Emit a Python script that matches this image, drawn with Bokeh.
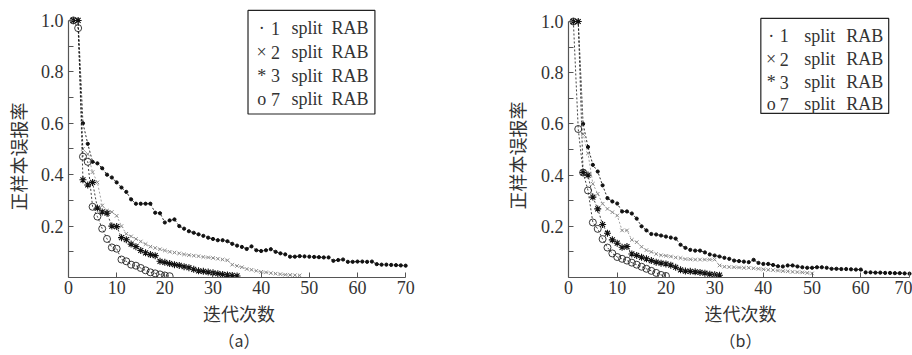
from bokeh.plotting import figure
from bokeh.models import FixedTicker, NumeralTickFormatter, Label, BoxAnnotation, Range1d, Title
from bokeh.layouts import row
from bokeh.embed import file_html
from bokeh.resources import INLINE

# ---------------- data ----------------
x_ticks = [0, 10, 20, 30, 40, 50, 60, 70]
y_ticks = [0.2, 0.4, 0.6, 0.8, 1.0]
y_minor = [0.1, 0.3, 0.5, 0.7, 0.9]
x_title = "迭代次数"
y_title = "正样本误报率"
panel_names = ["（a）", "（b）"]
legend_symbols = ["·", "×", "*", "o"]
legend_digits = ["1", "2", "3", "7"]
legend_words = ["split", "RAB"]

# (a)
a_split1 = [1.0, 1.0, 0.60, 0.52, 0.45, 0.444, 0.425, 0.40, 0.389, 0.37,
            0.35, 0.333, 0.304, 0.287, 0.287, 0.287, 0.287, 0.252, 0.25, 0.214,
            0.222, 0.226, 0.20, 0.19, 0.18, 0.174, 0.168, 0.162, 0.155, 0.15,
            0.145, 0.145, 0.141, 0.131, 0.124, 0.119, 0.111, 0.121, 0.106, 0.103,
            0.106, 0.11, 0.10, 0.094, 0.09, 0.081, 0.081, 0.083, 0.082, 0.081,
            0.08, 0.079, 0.078, 0.078, 0.065, 0.068, 0.07, 0.061, 0.061, 0.062,
            0.062, 0.061, 0.062, 0.052, 0.05, 0.05, 0.049, 0.048, 0.047, 0.046]
a_split2 = [1.0, 1.0, 0.50, 0.48, 0.41, 0.37, 0.28, 0.26, 0.255, 0.24,
            0.20, 0.17, 0.16, 0.15, 0.14, 0.13, 0.12, 0.115, 0.11, 0.105,
            0.10, 0.097, 0.094, 0.09, 0.087, 0.085, 0.083, 0.08, 0.078, 0.076,
            0.073, 0.07, 0.067, 0.05, 0.045, 0.04, 0.033, 0.03, 0.026, 0.022,
            0.02, 0.017, 0.015, 0.013, 0.011, 0.01, 0.009, 0.008]
a_split3 = [1.0, 1.0, 0.38, 0.36, 0.37, 0.27, 0.255, 0.25, 0.20, 0.198,
            0.155, 0.147, 0.13, 0.12, 0.105, 0.096, 0.089, 0.085, 0.063, 0.059,
            0.054, 0.05, 0.047, 0.042, 0.038, 0.032, 0.026, 0.024, 0.021, 0.018,
            0.015, 0.012, 0.01, 0.008, 0.006]
a_split7 = [1.0, 0.97, 0.47, 0.45, 0.275, 0.237, 0.19, 0.15, 0.117, 0.112,
            0.07, 0.063, 0.05, 0.046, 0.037, 0.028, 0.02, 0.016, 0.012, 0.008,
            0.005]

# (b)
b_split1 = [1.0, 1.0, 0.60, 0.51, 0.44, 0.414, 0.36, 0.31, 0.297, 0.289,
            0.258, 0.258, 0.25, 0.23, 0.20, 0.184, 0.17, 0.168, 0.164, 0.16,
            0.156, 0.152, 0.128, 0.116, 0.108, 0.105, 0.105, 0.098, 0.09, 0.086,
            0.082, 0.077, 0.073, 0.066, 0.064, 0.062, 0.06, 0.069, 0.057, 0.053,
            0.053, 0.049, 0.044, 0.043, 0.047, 0.047, 0.043, 0.04, 0.038, 0.038,
            0.04, 0.04, 0.038, 0.034, 0.034, 0.033, 0.033, 0.032, 0.031, 0.031,
            0.02, 0.02, 0.019, 0.019, 0.018, 0.018, 0.017, 0.017, 0.016, 0.015]
b_split2 = [1.0, 1.0, 0.56, 0.485, 0.366, 0.327, 0.288, 0.268, 0.255, 0.242,
            0.184, 0.184, 0.147, 0.138, 0.12, 0.107, 0.10, 0.092, 0.087, 0.085,
            0.082, 0.078, 0.076, 0.072, 0.071, 0.07, 0.07, 0.07, 0.07, 0.07,
            0.047, 0.042, 0.041, 0.04, 0.039, 0.038, 0.038, 0.036, 0.034, 0.032,
            0.03, 0.029, 0.027, 0.025, 0.024, 0.022, 0.021, 0.02, 0.018, 0.016]
b_split3 = [1.0, 1.0, 0.41, 0.40, 0.314, 0.268, 0.207, 0.173, 0.147, 0.134,
            0.118, 0.121, 0.092, 0.086, 0.079, 0.073, 0.066, 0.06, 0.056, 0.053,
            0.048, 0.04, 0.03, 0.025, 0.024, 0.022, 0.02, 0.017, 0.013, 0.011,
            0.009]
b_split7 = [1.0, 0.58, 0.41, 0.34, 0.215, 0.19, 0.15, 0.117, 0.094, 0.08,
            0.073, 0.066, 0.058, 0.05, 0.042, 0.034, 0.026, 0.018, 0.01, 0.006]

TEXT = "#333333"
AXIS = "#555555"
SERIF = "Liberation Serif"
CJK = "Noto Sans CJK SC"


def make_panel(series, name, width, x_end, y_end, left, right, bottom, title_standoff,
               title_offset, legend_box, legend_rows, legend_cols):
    p = figure(width=width, height=355, x_range=Range1d(0, x_end), y_range=Range1d(0, y_end),
               toolbar_location=None, output_backend="svg",
               min_border_left=left, min_border_right=right, min_border_top=0,
               min_border_bottom=bottom)
    p.outline_line_color = None
    p.grid.visible = False

    s1, s2, s3, s7 = series
    xs = lambda s: list(range(1, len(s) + 1))
    p.line(xs(s1), s1, line_color="#111111", line_width=0.9, line_dash="2 2")
    p.scatter(xs(s1), s1, marker="circle", size=3.2, fill_color="#111111", line_color="#111111")
    p.line(xs(s2), s2, line_color="#8a8a8a", line_width=0.8, line_dash="2 2")
    p.scatter(xs(s2), s2, marker="x", size=5, line_color="#8a8a8a", line_width=1)
    p.line(xs(s3), s3, line_color="#111111", line_width=0.8, line_dash="2 2")
    p.scatter(xs(s3), s3, marker="asterisk", size=7, line_color="#111111", line_width=1.1)
    p.line(xs(s7), s7, line_color="#111111", line_width=0.8, line_dash="2 2")
    p.scatter(xs(s7), s7, marker="circle", size=7, fill_color=None, line_color="#222222", line_width=0.9)

    # axes
    p.xaxis.ticker = FixedTicker(ticks=x_ticks)
    p.xaxis.bounds = (0, 70)
    p.yaxis.ticker = FixedTicker(ticks=y_ticks, minor_ticks=y_minor)
    p.yaxis.bounds = (0, 1.0)
    p.yaxis.formatter = NumeralTickFormatter(format="0.0")
    for ax in (p.xaxis, p.yaxis):
        ax.axis_line_color = AXIS
        ax.axis_line_width = 1.2
        ax.major_tick_line_color = AXIS
        ax.minor_tick_line_color = AXIS
        ax.major_tick_in = 5
        ax.major_tick_out = 0
        ax.minor_tick_in = 5
        ax.minor_tick_out = 0
        ax.major_label_text_font = SERIF
        ax.major_label_text_font_size = "18px"
        ax.major_label_text_color = TEXT
    p.xaxis.major_label_standoff = 3
    p.yaxis.major_label_standoff = 5
    p.xaxis.minor_tick_line_color = None

    p.xaxis.axis_label = x_title
    p.xaxis.axis_label_text_font = CJK
    p.xaxis.axis_label_text_font_size = "18px"
    p.xaxis.axis_label_text_font_style = "normal"
    p.xaxis.axis_label_text_color = TEXT
    p.xaxis.axis_label_standoff = 3

    p.add_layout(Title(text=name, align="center", vertical_align="top", text_font=CJK,
                       text_font_size="16px", text_font_style="normal", text_color=TEXT,
                       standoff=-2), "below")
    p.add_layout(Title(text=y_title, align="left", vertical_align="top", offset=title_offset,
                       text_font=CJK, text_font_size="18px", text_font_style="normal",
                       text_color=TEXT, standoff=title_standoff), "left")

    # legend
    bl, br, bt, bb = legend_box
    p.add_layout(BoxAnnotation(left=bl, right=br, top=bt, bottom=bb, fill_alpha=0,
                               line_color="#222222", line_width=1.2, line_alpha=1))
    cs, cd, c1, c2 = legend_cols
    for sym, dig, yy in zip(legend_symbols, legend_digits, legend_rows):
        for xx, txt, al in ((cs, sym, "center"), (cd, dig, "center"),
                            (c1, legend_words[0], "left"), (c2, legend_words[1], "left")):
            p.add_layout(Label(x=xx, y=yy, text=txt, text_font=SERIF, text_font_size="18px",
                               text_color=TEXT, text_align=al, text_baseline="middle"))
    return p


# left panel: x 0..70 -> 65..405 ; y: axis at 278, 1.0 at 20
pa = make_panel([a_split1, a_split2, a_split3, a_split7], panel_names[0],
                width=497, x_end=70.8, y_end=278 / 258, left=65, right=88, bottom=77,
                title_standoff=9, title_offset=67,
                legend_box=(37.27, 63.62, 1.039, 0.636),
                legend_rows=[0.969, 0.876, 0.785, 0.694],
                legend_cols=(40.1, 43.0, 46.3, 54.6))
# right panel: x 0..70 -> 565..909 ; y: axis at 277, 1.0 at 21
pb = make_panel([b_split1, b_split2, b_split3, b_split7], panel_names[1],
                width=415, x_end=347 / 4.914, y_end=277 / 256, left=68, right=0, bottom=78,
                title_standoff=12, title_offset=68,
                legend_box=(39.48, 65.73, 1.012, 0.641),
                legend_rows=[0.945, 0.852, 0.762, 0.676],
                legend_cols=(41.6, 44.3, 48.4, 57.0))

layout = row(pa, pb)
open("out.html", "w").write(file_html(layout, INLINE))
